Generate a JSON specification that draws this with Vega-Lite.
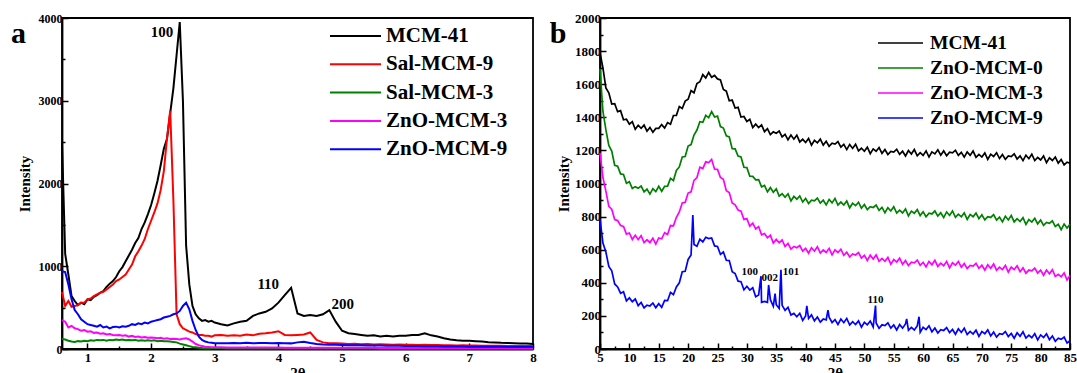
{
"$schema": "https://vega.github.io/schema/vega-lite/v6.json",
"background": "white",
"padding": {"left": 10, "top": 11, "right": 0, "bottom": 0},
"bounds": "flush",
"spacing": 67,
"config": {
  "font": "Liberation Serif",
  "view": {"stroke": "black", "strokeWidth": 1.8},
  "axis": {"grid": false, "domainColor": "black", "domainWidth": 1.8, "tickColor": "black", "tickWidth": 1.5,
    "labelFont": "Liberation Serif", "labelFontWeight": "bold", "labelColor": "black",
    "titleFont": "Liberation Serif", "titleFontWeight": "bold", "titleColor": "black",
    "labelFlush": false, "labelOverlap": false, "labelBound": false, "format": "d"},
  "text": {"font": "Liberation Serif", "fontWeight": "bold", "color": "black"}
},
"resolve": {"scale": {"color": "independent"}, "legend": {"color": "independent"}},
"datasets": {
"a": [
{"x":0.6,"m":2500,"r":690,"g":120,"p":350,"b":940},
{"x":0.65,"m":1150,"r":520,"g":115,"p":330,"b":930},
{"x":0.7,"m":900,"r":580,"g":100,"p":260,"b":780},
{"x":0.75,"m":640,"r":510,"g":90,"p":280,"b":600},
{"x":0.8,"m":580,"r":520,"g":85,"p":250,"b":470},
{"x":0.85,"m":530,"r":530,"g":95,"p":240,"b":420},
{"x":0.9,"m":560,"r":560,"g":90,"p":220,"b":360},
{"x":0.95,"m":540,"r":560,"g":100,"p":230,"b":330},
{"x":1,"m":600,"r":600,"g":95,"p":210,"b":300},
{"x":1.05,"m":590,"r":610,"g":105,"p":215,"b":290},
{"x":1.1,"m":630,"r":640,"g":100,"p":195,"b":280},
{"x":1.15,"m":650,"r":660,"g":110,"p":200,"b":270},
{"x":1.2,"m":680,"r":680,"g":105,"p":185,"b":290},
{"x":1.25,"m":700,"r":690,"g":110,"p":190,"b":260},
{"x":1.3,"m":750,"r":720,"g":100,"p":175,"b":270},
{"x":1.35,"m":790,"r":750,"g":110,"p":180,"b":250},
{"x":1.4,"m":820,"r":780,"g":105,"p":170,"b":265},
{"x":1.45,"m":870,"r":820,"g":115,"p":165,"b":270},
{"x":1.5,"m":940,"r":840,"g":110,"p":170,"b":260},
{"x":1.55,"m":990,"r":870,"g":115,"p":160,"b":275},
{"x":1.6,"m":1060,"r":900,"g":105,"p":165,"b":270},
{"x":1.65,"m":1130,"r":960,"g":110,"p":150,"b":280},
{"x":1.7,"m":1200,"r":1020,"g":105,"p":160,"b":300},
{"x":1.75,"m":1280,"r":1120,"g":110,"p":145,"b":290},
{"x":1.8,"m":1340,"r":1180,"g":100,"p":150,"b":310},
{"x":1.85,"m":1450,"r":1250,"g":105,"p":140,"b":300},
{"x":1.9,"m":1530,"r":1330,"g":100,"p":145,"b":320},
{"x":1.95,"m":1630,"r":1450,"g":105,"p":135,"b":310},
{"x":2,"m":1740,"r":1550,"g":100,"p":140,"b":330},
{"x":2.05,"m":1880,"r":1650,"g":105,"p":135,"b":340},
{"x":2.1,"m":2030,"r":1760,"g":95,"p":130,"b":350},
{"x":2.15,"m":2220,"r":1920,"g":100,"p":135,"b":360},
{"x":2.2,"m":2420,"r":2150,"g":95,"p":125,"b":380},
{"x":2.25,"m":2540,"r":2550,"g":95,"p":130,"b":390},
{"x":2.3,"m":2850,"r":2880,"g":90,"p":120,"b":400},
{"x":2.35,"m":3150,"r":1800,"g":85,"p":125,"b":420},
{"x":2.4,"m":3550,"r":420,"g":80,"p":120,"b":430},
{"x":2.45,"m":3950,"r":300,"g":65,"p":115,"b":460},
{"x":2.5,"m":3000,"r":250,"g":55,"p":125,"b":520},
{"x":2.55,"m":1250,"r":230,"g":45,"p":130,"b":560},
{"x":2.6,"m":780,"r":210,"g":35,"p":115,"b":480},
{"x":2.65,"m":520,"r":200,"g":25,"p":90,"b":340},
{"x":2.7,"m":420,"r":180,"g":20,"p":60,"b":230},
{"x":2.75,"m":370,"r":170,"g":15,"p":45,"b":150},
{"x":2.8,"m":340,"r":170,"g":12,"p":35,"b":110},
{"x":2.85,"m":350,"r":160,"g":10,"p":28,"b":90},
{"x":2.9,"m":330,"r":160,"g":10,"p":25,"b":80},
{"x":2.95,"m":340,"r":150,"g":8,"p":22,"b":75},
{"x":3,"m":320,"r":165,"g":8,"p":20,"b":70},
{"x":3.1,"m":300,"r":170,"g":8,"p":20,"b":70},
{"x":3.2,"m":285,"r":160,"g":7,"p":19,"b":68},
{"x":3.3,"m":310,"r":165,"g":7,"p":19,"b":72},
{"x":3.4,"m":330,"r":160,"g":7,"p":18,"b":70},
{"x":3.5,"m":340,"r":175,"g":7,"p":18,"b":75},
{"x":3.6,"m":400,"r":165,"g":7,"p":18,"b":70},
{"x":3.7,"m":430,"r":185,"g":6,"p":17,"b":72},
{"x":3.8,"m":450,"r":190,"g":6,"p":17,"b":74},
{"x":3.9,"m":490,"r":200,"g":6,"p":17,"b":70},
{"x":4,"m":560,"r":215,"g":6,"p":17,"b":72},
{"x":4.1,"m":650,"r":170,"g":6,"p":16,"b":70},
{"x":4.2,"m":740,"r":165,"g":6,"p":16,"b":68},
{"x":4.3,"m":430,"r":170,"g":6,"p":16,"b":80},
{"x":4.4,"m":400,"r":175,"g":6,"p":16,"b":88},
{"x":4.5,"m":410,"r":200,"g":6,"p":16,"b":72},
{"x":4.6,"m":400,"r":110,"g":6,"p":15,"b":60},
{"x":4.7,"m":420,"r":80,"g":6,"p":15,"b":55},
{"x":4.8,"m":470,"r":70,"g":6,"p":15,"b":52},
{"x":4.9,"m":330,"r":70,"g":5,"p":15,"b":50},
{"x":5,"m":220,"r":65,"g":5,"p":15,"b":48},
{"x":5.1,"m":190,"r":60,"g":5,"p":14,"b":46},
{"x":5.2,"m":180,"r":62,"g":5,"p":14,"b":45},
{"x":5.3,"m":170,"r":58,"g":5,"p":14,"b":44},
{"x":5.4,"m":160,"r":60,"g":5,"p":14,"b":43},
{"x":5.5,"m":165,"r":55,"g":5,"p":14,"b":42},
{"x":5.6,"m":150,"r":57,"g":5,"p":13,"b":41},
{"x":5.7,"m":160,"r":55,"g":5,"p":13,"b":40},
{"x":5.8,"m":150,"r":52,"g":5,"p":13,"b":39},
{"x":5.9,"m":160,"r":55,"g":5,"p":13,"b":38},
{"x":6,"m":160,"r":50,"g":5,"p":13,"b":37},
{"x":6.1,"m":170,"r":52,"g":5,"p":13,"b":36},
{"x":6.2,"m":170,"r":48,"g":5,"p":12,"b":35},
{"x":6.3,"m":190,"r":50,"g":5,"p":12,"b":34},
{"x":6.4,"m":165,"r":47,"g":5,"p":12,"b":33},
{"x":6.5,"m":150,"r":48,"g":5,"p":12,"b":32},
{"x":6.6,"m":130,"r":45,"g":5,"p":12,"b":31},
{"x":6.7,"m":115,"r":46,"g":5,"p":12,"b":30},
{"x":6.8,"m":105,"r":43,"g":5,"p":12,"b":30},
{"x":6.9,"m":100,"r":44,"g":5,"p":11,"b":29},
{"x":7,"m":100,"r":42,"g":5,"p":11,"b":28},
{"x":7.1,"m":95,"r":41,"g":5,"p":11,"b":28},
{"x":7.2,"m":90,"r":40,"g":5,"p":11,"b":27},
{"x":7.3,"m":82,"r":40,"g":5,"p":11,"b":27},
{"x":7.4,"m":80,"r":38,"g":5,"p":11,"b":26},
{"x":7.5,"m":75,"r":38,"g":5,"p":11,"b":26},
{"x":7.6,"m":72,"r":37,"g":5,"p":10,"b":25},
{"x":7.7,"m":70,"r":36,"g":5,"p":10,"b":25},
{"x":7.8,"m":66,"r":36,"g":5,"p":10,"b":25},
{"x":7.9,"m":65,"r":35,"g":5,"p":10,"b":24},
{"x":8,"m":60,"r":35,"g":5,"p":10,"b":24}
],
"al": [
{"x":2.17,"v":3833,"t":"100"},
{"x":3.84,"v":781,"t":"110"},
{"x":5.01,"v":540,"t":"200"}
],
"ap": [
{"x":-0.084,"v":3697,"t":"a"}
],
"b": [
{"x":5,"k":1790,"g":1692,"p":1185,"b":783},
{"x":5.5,"k":1698,"g":1435,"p":1036,"b":640},
{"x":6,"k":1578,"g":1325,"p":954,"b":586},
{"x":6.5,"k":1548,"g":1230,"p":862,"b":499},
{"x":7,"k":1480,"g":1196,"p":845,"b":473},
{"x":7.5,"k":1482,"g":1110,"p":782,"b":393},
{"x":8,"k":1434,"g":1104,"p":776,"b":375},
{"x":8.5,"k":1440,"g":1058,"p":746,"b":337},
{"x":9,"k":1385,"g":1055,"p":741,"b":346},
{"x":9.5,"k":1388,"g":1001,"p":694,"b":291},
{"x":10,"k":1358,"g":1011,"p":701,"b":309},
{"x":10.5,"k":1374,"g":970,"p":662,"b":286},
{"x":11,"k":1328,"g":981,"p":687,"b":302},
{"x":11.5,"k":1352,"g":971,"p":661,"b":262},
{"x":12,"k":1334,"g":984,"p":685,"b":281},
{"x":12.5,"k":1353,"g":949,"p":643,"b":248},
{"x":13,"k":1316,"g":966,"p":660,"b":265},
{"x":13.5,"k":1339,"g":936,"p":643,"b":260},
{"x":14,"k":1310,"g":969,"p":669,"b":278},
{"x":14.5,"k":1333,"g":951,"p":634,"b":250},
{"x":15,"k":1333,"g":983,"p":671,"b":274},
{"x":15.5,"k":1356,"g":953,"p":666,"b":252},
{"x":16,"k":1335,"g":983,"p":703,"b":294},
{"x":16.5,"k":1368,"g":984,"p":692,"b":292},
{"x":17,"k":1358,"g":1031,"p":746,"b":342},
{"x":17.5,"k":1411,"g":1018,"p":744,"b":328},
{"x":18,"k":1412,"g":1079,"p":796,"b":375},
{"x":18.5,"k":1465,"g":1100,"p":828,"b":400},
{"x":19,"k":1453,"g":1160,"p":882,"b":467},
{"x":19.5,"k":1498,"g":1163,"p":887,"b":470},
{"x":20,"k":1509,"g":1226,"p":942,"b":541},
{"x":20.5,"k":1561,"g":1235,"p":950,"b":568},
{"x":20.8,"b":810},
{"x":21,"k":1548,"g":1293,"p":1019,"b":632},
{"x":21.5,"k":1604,"g":1323,"p":1036,"b":621},
{"x":22,"k":1615,"g":1373,"p":1098,"b":664},
{"x":22.5,"k":1658,"g":1370,"p":1090,"b":647},
{"x":23,"k":1638,"g":1412,"p":1131,"b":675},
{"x":23.5,"k":1671,"g":1398,"p":1126,"b":667},
{"x":24,"k":1642,"g":1434,"p":1146,"b":671},
{"x":24.5,"k":1653,"g":1402,"p":1086,"b":623},
{"x":25,"k":1632,"g":1407,"p":1085,"b":620},
{"x":25.5,"k":1626,"g":1344,"p":1036,"b":572},
{"x":26,"k":1568,"g":1335,"p":1025,"b":586},
{"x":26.5,"k":1558,"g":1288,"p":956,"b":536},
{"x":27,"k":1500,"g":1281,"p":945,"b":534},
{"x":27.5,"k":1504,"g":1210,"p":882,"b":467},
{"x":28,"k":1456,"g":1209,"p":871,"b":456},
{"x":28.5,"k":1460,"g":1166,"p":840,"b":410},
{"x":29,"k":1402,"g":1160,"p":833,"b":407},
{"x":29.5,"k":1405,"g":1098,"p":783,"b":358},
{"x":30,"k":1375,"g":1096,"p":788,"b":379},
{"x":30.5,"k":1388,"g":1044,"p":742,"b":356},
{"x":31,"k":1338,"g":1043,"p":760,"b":370},
{"x":31.5,"k":1359,"g":1022,"p":726,"b":316},
{"x":32,"k":1338,"g":1023,"p":740,"b":326},
{"x":32.4,"b":440},
{"x":32.5,"k":1354,"g":980,"p":690,"b":282},
{"x":33,"k":1313,"g":988,"p":698,"b":288},
{"x":33.5,"k":1331,"g":950,"p":672,"b":282},
{"x":33.7,"b":387},
{"x":34,"k":1296,"g":975,"p":688,"b":298},
{"x":34.5,"k":1312,"g":947,"p":640,"b":258},
{"x":34.8,"b":335},
{"x":35,"k":1304,"g":968,"p":662,"b":268},
{"x":35.5,"k":1317,"g":924,"p":642,"b":245},
{"x":35.8,"b":478},
{"x":36,"k":1282,"g":938,"p":659,"b":264},
{"x":36.5,"k":1297,"g":917,"p":619,"b":234},
{"x":37,"k":1264,"g":938,"p":638,"b":252},
{"x":37.5,"k":1293,"g":895,"p":604,"b":205},
{"x":38,"k":1268,"g":922,"p":620,"b":215},
{"x":38.5,"k":1292,"g":905,"p":612,"b":195},
{"x":39,"k":1251,"g":925,"p":625,"b":216},
{"x":39.5,"k":1267,"g":888,"p":591,"b":173},
{"x":40,"k":1248,"g":910,"p":608,"b":199},
{"x":40.2,"b":260},
{"x":40.5,"k":1272,"g":879,"p":579,"b":184},
{"x":41,"k":1232,"g":899,"p":612,"b":206},
{"x":41.5,"k":1261,"g":895,"p":591,"b":170},
{"x":42,"k":1246,"g":912,"p":618,"b":193},
{"x":42.5,"k":1268,"g":881,"p":580,"b":162},
{"x":43,"k":1232,"g":899,"p":598,"b":181},
{"x":43.5,"k":1255,"g":871,"p":583,"b":176},
{"x":43.8,"b":235},
{"x":44,"k":1224,"g":904,"p":608,"b":192},
{"x":44.5,"k":1243,"g":883,"p":569,"b":160},
{"x":45,"k":1238,"g":910,"p":599,"b":178},
{"x":45.5,"k":1253,"g":870,"p":583,"b":148},
{"x":46,"k":1220,"g":888,"p":603,"b":181},
{"x":46.5,"k":1236,"g":870,"p":566,"b":159},
{"x":47,"k":1205,"g":894,"p":585,"b":185},
{"x":47.5,"k":1236,"g":853,"p":556,"b":145},
{"x":48,"k":1212,"g":881,"p":574,"b":165},
{"x":48.5,"k":1237,"g":866,"p":568,"b":148},
{"x":49,"k":1197,"g":887,"p":583,"b":170},
{"x":49.5,"k":1213,"g":851,"p":549,"b":132},
{"x":50,"k":1195,"g":873,"p":566,"b":161},
{"x":50.5,"k":1219,"g":842,"p":535,"b":146},
{"x":51,"k":1180,"g":860,"p":567,"b":169},
{"x":51.5,"k":1209,"g":855,"p":544,"b":133},
{"x":51.9,"b":262},
{"x":52,"k":1195,"g":870,"p":569,"b":157},
{"x":52.5,"k":1217,"g":838,"p":530,"b":125},
{"x":53,"k":1182,"g":856,"p":547,"b":146},
{"x":53.5,"k":1205,"g":823,"p":530,"b":141},
{"x":54,"k":1175,"g":854,"p":553,"b":158},
{"x":54.5,"k":1194,"g":834,"p":513,"b":126},
{"x":55,"k":1190,"g":860,"p":541,"b":145},
{"x":55.5,"k":1207,"g":821,"p":526,"b":115},
{"x":56,"k":1176,"g":839,"p":549,"b":148},
{"x":56.5,"k":1195,"g":822,"p":512,"b":126},
{"x":57,"k":1166,"g":846,"p":535,"b":151},
{"x":57.2,"b":182},
{"x":57.5,"k":1199,"g":804,"p":504,"b":113},
{"x":58,"k":1178,"g":833,"p":524,"b":131},
{"x":58.5,"k":1205,"g":820,"p":521,"b":115},
{"x":59,"k":1167,"g":842,"p":537,"b":139},
{"x":59.3,"b":195},
{"x":59.5,"k":1186,"g":806,"p":506,"b":101},
{"x":60,"k":1170,"g":829,"p":524,"b":131},
{"x":60.5,"k":1197,"g":799,"p":496,"b":117},
{"x":61,"k":1160,"g":820,"p":529,"b":140},
{"x":61.5,"k":1191,"g":816,"p":509,"b":104},
{"x":62,"k":1179,"g":834,"p":536,"b":127},
{"x":62.5,"k":1204,"g":803,"p":499,"b":97},
{"x":63,"k":1171,"g":823,"p":519,"b":117},
{"x":63.5,"k":1197,"g":794,"p":503,"b":112},
{"x":64,"k":1168,"g":828,"p":529,"b":129},
{"x":64.5,"k":1189,"g":807,"p":490,"b":99},
{"x":65,"k":1185,"g":834,"p":521,"b":118},
{"x":65.5,"k":1201,"g":796,"p":507,"b":89},
{"x":66,"k":1170,"g":815,"p":529,"b":122},
{"x":66.5,"k":1188,"g":799,"p":494,"b":100},
{"x":67,"k":1159,"g":822,"p":516,"b":126},
{"x":67.5,"k":1191,"g":783,"p":486,"b":87},
{"x":68,"k":1170,"g":813,"p":505,"b":106},
{"x":68.5,"k":1196,"g":799,"p":501,"b":90},
{"x":69,"k":1158,"g":821,"p":517,"b":114},
{"x":69.5,"k":1176,"g":787,"p":487,"b":76},
{"x":70,"k":1160,"g":811,"p":506,"b":106},
{"x":70.5,"k":1185,"g":780,"p":477,"b":92},
{"x":71,"k":1146,"g":800,"p":509,"b":115},
{"x":71.5,"k":1177,"g":795,"p":488,"b":79},
{"x":72,"k":1163,"g":812,"p":514,"b":102},
{"x":72.5,"k":1186,"g":779,"p":476,"b":72},
{"x":73,"k":1151,"g":797,"p":495,"b":92},
{"x":73.5,"k":1175,"g":768,"p":480,"b":88},
{"x":74,"k":1146,"g":802,"p":505,"b":105},
{"x":74.5,"k":1166,"g":780,"p":465,"b":75},
{"x":75,"k":1162,"g":807,"p":495,"b":94},
{"x":75.5,"k":1179,"g":768,"p":480,"b":65},
{"x":76,"k":1148,"g":787,"p":503,"b":98},
{"x":76.5,"k":1167,"g":770,"p":467,"b":77},
{"x":77,"k":1138,"g":793,"p":490,"b":104},
{"x":77.5,"k":1171,"g":753,"p":458,"b":66},
{"x":78,"k":1150,"g":782,"p":477,"b":84},
{"x":78.5,"k":1177,"g":767,"p":472,"b":68},
{"x":79,"k":1139,"g":790,"p":489,"b":93},
{"x":79.5,"k":1158,"g":756,"p":459,"b":55},
{"x":80,"k":1142,"g":779,"p":477,"b":85},
{"x":80.5,"k":1166,"g":747,"p":446,"b":70},
{"x":81,"k":1126,"g":765,"p":477,"b":92},
{"x":81.5,"k":1155,"g":759,"p":454,"b":56},
{"x":82,"k":1139,"g":774,"p":479,"b":79},
{"x":82.5,"k":1160,"g":740,"p":438,"b":47},
{"x":83,"k":1123,"g":753,"p":451,"b":65},
{"x":83.5,"k":1145,"g":721,"p":436,"b":58},
{"x":84,"k":1112,"g":755,"p":459,"b":72},
{"x":84.5,"k":1129,"g":731,"p":417,"b":36},
{"x":85,"k":1122,"g":754,"p":444,"b":50}
],
"bl": [
{"x":30.5,"v":467,"t":"100"},
{"x":33.9,"v":427,"t":"002"},
{"x":37.5,"v":467,"t":"101"},
{"x":51.9,"v":296,"t":"110"}
],
"bp": [
{"x":-2.15,"v":1849,"t":"b"}
]
},
"hconcat": [
{
  "width": 471, "height": 331,
  "layer": [
    {
      "data": {"name": "a"},
      "transform": [{"fold": ["m", "r", "g", "p", "b"], "as": ["s", "v"]}],
      "mark": {"type": "line", "strokeWidth": 2},
      "encoding": {
        "x": {"field": "x", "type": "quantitative", "scale": {"domain": [0.6, 8], "nice": false, "zero": false},
          "axis": {"title": "2θ", "titleFontSize": 15, "titlePadding": -2, "labelFontSize": 13, "labelPadding": 8, "labelOverlap": false, "tickCount": 200,
            "values": [1,1.5,2,2.5,3,3.5,4,4.5,5,5.5,6,6.5,7,7.5,8],
            "labelExpr": "datum.value % 1 === 0 ? datum.label : ''",
            "tickSize": {"condition": {"test": "datum.value % 1 === 0", "value": -6}, "value": -3}}},
        "y": {"field": "v", "type": "quantitative", "scale": {"domain": [0, 4000], "nice": false},
          "axis": {"title": "Intensity", "titleFontSize": 15, "titlePadding": 6, "labelFontSize": 12, "labelPadding": 6, "labelOverlap": false, "tickCount": 200,
            "values": [0,500,1000,1500,2000,2500,3000,3500,4000],
            "labelExpr": "datum.value % 1000 === 0 ? datum.label : ''",
            "tickSize": {"condition": {"test": "datum.value % 1000 === 0", "value": -6}, "value": -3}}},
        "color": {"field": "s", "type": "nominal",
          "scale": {"domain": ["m", "r", "g", "p", "b"], "range": ["#000000", "#ff0000", "#008000", "#ff00ff", "#0000ff"]},
          "legend": {"orient": "none", "legendX": 267, "legendY": 8, "title": null, "padding": 0,
            "symbolType": "stroke", "symbolSize": 2601, "symbolStrokeWidth": 2, "clipHeight": 20,
            "rowPadding": 7.3, "labelOffset": 4, "labelFontSize": 21, "labelFont": "Liberation Serif",
            "labelFontWeight": "bold", "labelColor": "black", "labelLimit": 0,
            "labelExpr": "datum.label === 'm' ? 'MCM-41' : datum.label === 'r' ? 'Sal-MCM-9' : datum.label === 'g' ? 'Sal-MCM-3' : datum.label === 'p' ? 'ZnO-MCM-3' : 'ZnO-MCM-9'"}}
      }
    },
    {
      "data": {"name": "al"},
      "mark": {"type": "text", "fontSize": 15},
      "encoding": {
        "x": {"field": "x", "type": "quantitative", "scale": {"domain": [0.6, 8], "nice": false, "zero": false}},
        "y": {"field": "v", "type": "quantitative", "scale": {"domain": [0, 4000], "nice": false}},
        "text": {"field": "t"}
      }
    },
    {
      "data": {"name": "ap"},
      "mark": {"type": "text", "fontSize": 30, "baseline": "alphabetic", "align": "center"},
      "encoding": {
        "x": {"field": "x", "type": "quantitative", "scale": {"domain": [0.6, 8], "nice": false, "zero": false}},
        "y": {"field": "v", "type": "quantitative", "scale": {"domain": [0, 4000], "nice": false}},
        "text": {"field": "t"}
      }
    }
  ]
},
{
  "width": 470, "height": 331,
  "layer": [
    {
      "data": {"name": "b"},
      "transform": [{"fold": ["k", "g", "p", "b"], "as": ["sb", "v"]}, {"filter": "isValid(datum.v)"}],
      "mark": {"type": "line", "strokeWidth": 1.7},
      "encoding": {
        "x": {"field": "x", "type": "quantitative", "scale": {"domain": [5, 85], "nice": false, "zero": false},
          "axis": {"title": "2θ", "titleFontSize": 15, "titlePadding": -2, "labelFontSize": 13, "labelPadding": 8, "labelOverlap": false, "tickCount": 200,
            "values": [5,7.5,10,12.5,15,17.5,20,22.5,25,27.5,30,32.5,35,37.5,40,42.5,45,47.5,50,52.5,55,57.5,60,62.5,65,67.5,70,72.5,75,77.5,80,82.5,85],
            "labelExpr": "datum.value % 5 === 0 ? datum.label : ''",
            "tickSize": {"condition": {"test": "datum.value % 5 === 0", "value": -6}, "value": -3}}},
        "y": {"field": "v", "type": "quantitative", "scale": {"domain": [0, 2000], "nice": false},
          "axis": {"title": "Intensity", "titleFontSize": 15, "titlePadding": 3.5, "labelFontSize": 13, "labelPadding": 5.5, "labelOverlap": false, "tickCount": 200,
            "values": [0,100,200,300,400,500,600,700,800,900,1000,1100,1200,1300,1400,1500,1600,1700,1800,1900,2000],
            "labelExpr": "datum.value % 200 === 0 ? datum.label : ''",
            "tickSize": {"condition": {"test": "datum.value % 200 === 0", "value": -6}, "value": -3}}},
        "color": {"field": "sb", "type": "nominal",
          "scale": {"domain": ["k", "g", "p", "b"], "range": ["#000000", "#008000", "#ff00ff", "#0000ff"]},
          "legend": {"orient": "none", "legendX": 277, "legendY": 16, "title": null, "padding": 0,
            "symbolType": "stroke", "symbolSize": 2025, "symbolStrokeWidth": 1.5, "clipHeight": 18,
            "rowPadding": 5, "labelOffset": 6, "labelFontSize": 19.5, "labelFont": "Liberation Serif",
            "labelFontWeight": "bold", "labelColor": "black", "labelLimit": 0,
            "labelExpr": "datum.label === 'k' ? 'MCM-41' : datum.label === 'g' ? 'ZnO-MCM-0' : datum.label === 'p' ? 'ZnO-MCM-3' : 'ZnO-MCM-9'"}}
      }
    },
    {
      "data": {"name": "bl"},
      "mark": {"type": "text", "fontSize": 11},
      "encoding": {
        "x": {"field": "x", "type": "quantitative", "scale": {"domain": [5, 85], "nice": false, "zero": false}},
        "y": {"field": "v", "type": "quantitative", "scale": {"domain": [0, 2000], "nice": false}},
        "text": {"field": "t"}
      }
    },
    {
      "data": {"name": "bp"},
      "mark": {"type": "text", "fontSize": 30, "baseline": "alphabetic", "align": "center"},
      "encoding": {
        "x": {"field": "x", "type": "quantitative", "scale": {"domain": [5, 85], "nice": false, "zero": false}},
        "y": {"field": "v", "type": "quantitative", "scale": {"domain": [0, 2000], "nice": false}},
        "text": {"field": "t"}
      }
    }
  ]
}
]
}
